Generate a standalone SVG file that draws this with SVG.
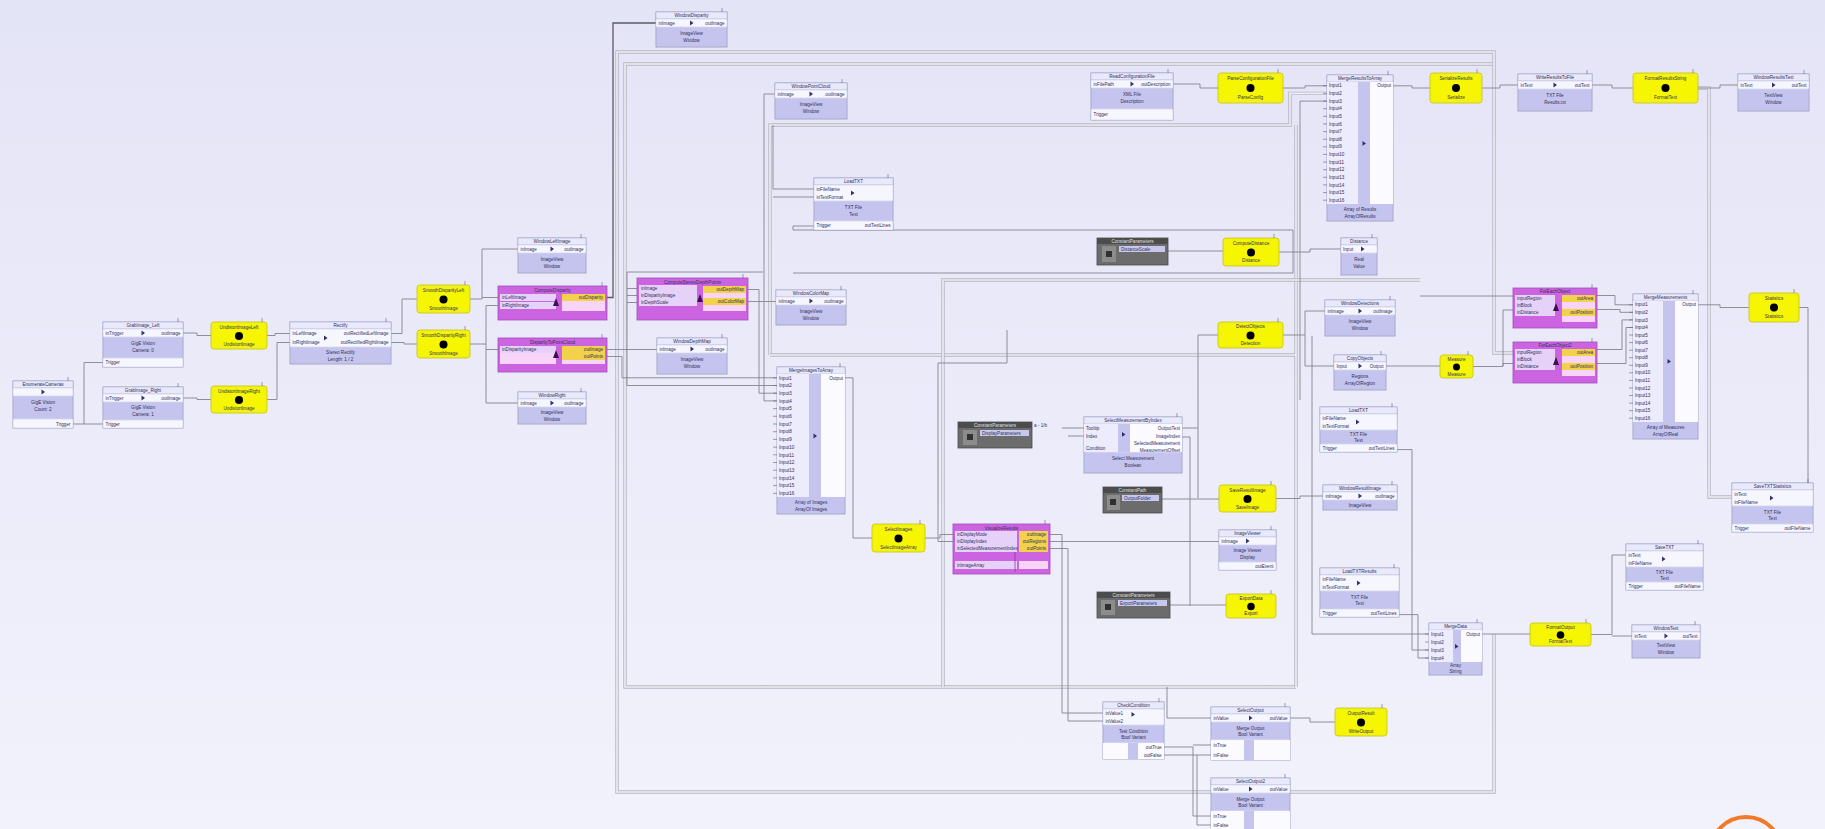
<svg xmlns="http://www.w3.org/2000/svg" width="1825" height="829" viewBox="0 0 1825 829">
<defs>
<linearGradient id="bg" x1="0" y1="0" x2="0" y2="1"><stop offset="0" stop-color="#e4e4f7"/><stop offset="1" stop-color="#f2f2fc"/></linearGradient>
<style>
.o{fill:#d0d0f2;stroke:#9494bc;stroke-width:.8}
.h{fill:#e9e9fc;stroke:#a8a8cc;stroke-width:.5}
.p{fill:#f6f6ff;stroke:#b8b8d8;stroke-width:.4}
.b{fill:#c4c4ee}
.lw{fill:#ececfc}
.ow{fill:#fafaff}
.t{font-family:"Liberation Sans",Arial,sans-serif;font-size:4.6px;fill:#30305a}
.tw{font-family:"Liberation Sans",Arial,sans-serif;font-size:4.6px;fill:#e0e0e0}
.c{text-anchor:middle}
.e{text-anchor:end}
.g{fill:#303070}
.y{fill:#f6f600;stroke:#c8c400;stroke-width:.8}
.yi{fill:none;stroke:#e4e460;stroke-width:.5}
.mg{fill:#cc64e2;stroke:#a24cb8;stroke-width:.8}
.mi{fill:#e6d2f8}
.mo{fill:#f2d24a}
.mp{fill:#f8d4f8}
.dk{fill:#6c6c6c;stroke:#4a4a4a;stroke-width:.8}
.dh{fill:#4c4c4c}
.di{fill:#8c8c8c}
.dl{fill:#c8c8ee}
.tk{fill:none;stroke:#606080;stroke-width:.6}
.w{fill:none;stroke:#84848f;stroke-width:.9}
.wd{fill:none;stroke:#5a5a68;stroke-width:1.3}
.bs{fill:none;stroke:#b6b6c2;stroke-width:3.4}
.bi{fill:none;stroke:#eeeef6;stroke-width:1.6}
</style>
</defs>
<rect width="1825" height="829" fill="url(#bg)"/>

<g id="connectors">
<g id="buses">
<path class="bs" d="M1494,634 V792 H617 V52 H1494 V353 H1515"/>
<path class="bi" d="M1494,634 V792 H617 V52 H1494 V353 H1515"/>
<path class="bs" d="M1296,687 H625 V64 H1492"/>
<path class="bi" d="M1296,687 H625 V64 H1492"/>
<path class="bs" d="M770,355 V125 H1290 V93.4 H1327"/>
<path class="bi" d="M770,355 V125 H1290 V93.4 H1327"/>
<path class="bs" d="M770,355 H1296 M1296,125 V687"/>
<path class="bi" d="M770,355 H1296 M1296,125 V687"/>
<path class="bs" d="M943,687 V280 H1420"/>
<path class="bi" d="M943,687 V280 H1420"/>
<path class="bs" d="M1698,88 H1709 V497 H1732"/>
<path class="bi" d="M1698,88 H1709 V497 H1732"/>
</g>
<path class="w" d="M73,424 H103"/>
<path class="w" d="M84,424 V362.5 H103"/>
<path class="w" d="M183,333 H197 V335.5 H211"/>
<path class="w" d="M183,398 H197 V399.5 H211"/>
<path class="w" d="M267,335.5 H275 V333.5 H290"/>
<path class="w" d="M267,399.5 H277 V342.5 H290"/>
<path class="w" d="M391,333.5 H402 V299 H417"/>
<path class="w" d="M391,342.5 H404 V344 H417"/>
<path class="w" d="M470,299 H482 V249 H518 M482,297.5 H500"/>
<path class="w" d="M470,344 H486 V305.5 H500 M486,344 V403 H518 M486,349.5 H500"/>
<path class="wd" d="M605,297.5 H613 V23 H656"/>
<path class="w" d="M605,349.5 H657"/>
<path class="w" d="M605,356.5 H622 V377.8 H777"/>
<path class="w" d="M627,272 V385.5 H777 M627,288.5 H639 M627,295.5 H639 M627,302.5 H639 M627,272 H763"/>
<path class="w" d="M748,289.5 H759 V393.2 H777"/>
<path class="w" d="M748,301.5 H776"/>
<path class="w" d="M775,94 H764 V400.9 H777"/>
<path class="w" d="M773,125 V189 H814 M773,197 H814"/>
<path class="w" d="M814,226 H793 V230 H1293 V273 H793"/>
<path class="w" d="M1173,84 H1200 V88 H1218"/>
<path class="w" d="M1283,88 H1305 V85.8 H1327"/>
<path class="w" d="M1300,101.1 H1327 M1300,101.1 V400"/>
<path class="w" d="M1393,85.8 H1412 V88 H1430"/>
<path class="w" d="M1482,88 H1500 V85 H1518"/>
<path class="w" d="M1592,85 H1612 V88 H1633"/>
<path class="w" d="M1698,88 H1720 V85 H1738"/>
<path class="w" d="M1168,251 H1223"/>
<path class="w" d="M1279,252 H1310 V249 H1341"/>
<path class="w" d="M1198,498 V335 H1218"/>
<path class="w" d="M1283,335 H1305 V311 H1325 M1305,335 V366 H1334"/>
<path class="w" d="M1386,366 H1440"/>
<path class="w" d="M1473,366.5 H1503 V363.5 H1515"/>
<path class="w" d="M1420,296 H1515 M1503,310 H1515 M1503,310 V366"/>
<path class="w" d="M1597,295.5 H1615 V304.8 H1633 M1597,309.5 H1620 V312.3 H1633"/>
<path class="w" d="M1597,349.5 H1622 V319.9 H1633 M1597,363.5 H1626 V327.5 H1633"/>
<path class="w" d="M1698,304.8 H1720 V307.5 H1749"/>
<path class="w" d="M1799,307.5 H1808 V483"/>
<path class="w" d="M845,377.8 H853 V538 H872"/>
<path class="w" d="M925,538 H940 V534.5 H955"/>
<path class="w" d="M1007,330 V363 H938 V541.5 H955"/>
<path class="w" d="M1048,534.5 H1062 V713 H1103 M1062,428 H1084 M1048,541.5 H1219 M1048,548.5 H1068 V721 H1103 M1068,436 H1084"/>
<path class="w" d="M1182,428 H1198 M1182,437 H1190 V606"/>
<path class="w" d="M1162,499 H1219"/>
<path class="w" d="M1170,605 H1226"/>
<path class="w" d="M1276,498.5 H1300 V496 H1323"/>
<path class="w" d="M1312,336 V634 H1429 M1397,449.6 H1412 V650 H1429 M1399,614.6 H1418 V658 H1429"/>
<path class="w" d="M1482,634 H1530"/>
<path class="w" d="M1591,634.5 H1612 V555 H1626 M1612,636 H1632"/>
<path class="w" d="M1164,747 H1193 V816 H1211 M1193,745 H1211 M1164,755 H1197 V825 H1211 M1197,755 H1211"/>
<path class="w" d="M1167,687 V718 H1211"/>
<path class="w" d="M1290,718 H1310 V722 H1335"/>
</g>

<g id="A"><rect class="o" x="13" y="381" width="60" height="47"/><rect class="h" x="13" y="381" width="60" height="7"/><text class="t c" x="43" y="386.2">EnumerateCameras</text><rect class="p" x="13" y="388" width="60" height="8"/><path class="g" d="M41.5,389.6l3.5,2.4l-3.5,2.4z"/><rect class="b" x="14" y="397" width="58" height="21"/><text class="t c" x="43" y="404">GigE Vision</text><text class="t c" x="43" y="411">Count: 2</text><rect class="p" x="13" y="419" width="60" height="9"/><text class="t e" x="70.5" y="425.5">Trigger</text><path class="tk" d="M68,377v4"/></g>

<g id="B"><rect class="o" x="103" y="322" width="80" height="45"/><rect class="h" x="103" y="322" width="80" height="7"/><text class="t c" x="143" y="327.2">GrabImage_Left</text><rect class="p" x="103" y="329" width="80" height="8"/><text class="t" x="105.5" y="334.6">inTrigger</text><text class="t e" x="180.5" y="334.6">outImage</text><path class="g" d="M141.5,330.6l3.5,2.4l-3.5,2.4z"/><rect class="b" x="104" y="338" width="78" height="19"/><text class="t c" x="143" y="344.5">GigE Vision</text><text class="t c" x="143" y="351.5">Camera: 0</text><rect class="p" x="103" y="358" width="80" height="9"/><text class="t" x="105.5" y="364">Trigger</text><path class="tk" d="M178,318v4"/></g>

<g id="C"><rect class="o" x="103" y="387" width="80" height="41"/><rect class="h" x="103" y="387" width="80" height="7"/><text class="t c" x="143" y="392.2">GrabImage_Right</text><rect class="p" x="103" y="394" width="80" height="8"/><text class="t" x="105.5" y="399.6">inTrigger</text><text class="t e" x="180.5" y="399.6">outImage</text><path class="g" d="M141.5,395.6l3.5,2.4l-3.5,2.4z"/><rect class="b" x="104" y="403" width="78" height="16"/><text class="t c" x="143" y="409">GigE Vision</text><text class="t c" x="143" y="416">Camera: 1</text><rect class="p" x="103" y="420" width="80" height="8"/><text class="t" x="105.5" y="425.6">Trigger</text><path class="tk" d="M178,383v4"/></g>

<g id="D"><rect class="y" x="211" y="322" width="56" height="27" rx="3"/><rect class="yi" x="213" y="324" width="52" height="23" rx="2"/><text class="t c" x="239" y="328.5">UndistortImageLeft</text><circle cx="239" cy="336" r="4"/><text class="t c" x="239" y="345.5">UndistortImage</text><path class="tk" d="M262,318v4"/></g>
<g id="E"><rect class="y" x="211" y="386" width="56" height="27" rx="3"/><rect class="yi" x="213" y="388" width="52" height="23" rx="2"/><text class="t c" x="239" y="392.5">UndistortImageRight</text><circle cx="239" cy="400" r="4"/><text class="t c" x="239" y="409.5">UndistortImage</text><path class="tk" d="M262,382v4"/></g>

<g id="F"><rect class="o" x="290" y="322" width="101" height="42"/><rect class="h" x="290" y="322" width="101" height="7"/><text class="t c" x="340.5" y="327.2">Rectify</text><rect class="p" x="290" y="329" width="101" height="18"/><text class="t" x="292.5" y="335">inLeftImage</text><text class="t" x="292.5" y="344">inRightImage</text><text class="t e" x="388.5" y="335">outRectifiedLeftImage</text><text class="t e" x="388.5" y="344">outRectifiedRightImage</text><path class="g" d="M324,335.6l3.5,2.4l-3.5,2.4z"/><rect class="b" x="291" y="348" width="99" height="15"/><text class="t c" x="340.5" y="354">Stereo Rectify</text><text class="t c" x="340.5" y="361">Length: 1 / 2</text><path class="tk" d="M386,318v4"/></g>

<g id="G"><rect class="y" x="417" y="285" width="53" height="28" rx="3"/><rect class="yi" x="419" y="287" width="49" height="24" rx="2"/><text class="t c" x="443.5" y="291.5">SmoothDisparityLeft</text><circle cx="443.5" cy="299.5" r="4"/><text class="t c" x="443.5" y="309.5">SmoothImage</text><path class="tk" d="M465,281v4"/></g>
<g id="H"><rect class="y" x="417" y="330" width="53" height="28" rx="3"/><rect class="yi" x="419" y="332" width="49" height="24" rx="2"/><text class="t c" x="443.5" y="336.5">SmoothDisparityRight</text><circle cx="443.5" cy="344.5" r="4"/><text class="t c" x="443.5" y="354.5">SmoothImage</text><path class="tk" d="M465,326v4"/></g>

<g id="I"><rect class="o" x="518" y="238" width="68" height="35"/><rect class="h" x="518" y="238" width="68" height="7"/><text class="t c" x="552" y="243.2">WindowLeftImage</text><rect class="p" x="518" y="245" width="68" height="8"/><text class="t" x="520.5" y="250.6">inImage</text><text class="t e" x="583.5" y="250.6">outImage</text><path class="g" d="M550.5,246.6l3.5,2.4l-3.5,2.4z"/><rect class="b" x="519" y="254" width="66" height="18"/><text class="t c" x="552" y="260.5">ImageView</text><text class="t c" x="552" y="267.5">Window</text><path class="tk" d="M581,234v4"/></g>

<g id="J"><rect class="mg" x="498" y="286" width="109" height="34"/><text class="t c" x="552.5" y="291.6">ComputeDisparity</text><rect class="mi" x="500" y="294" width="56" height="7"/><rect class="mi" x="500" y="302" width="56" height="7"/><text class="t" x="502" y="299.2">inLeftImage</text><text class="t" x="502" y="307.2">inRightImage</text><path d="M553,306 l3,-8 l3,8z" fill="#3a1050"/><rect class="mo" x="562" y="294" width="43" height="7"/><rect class="mp" x="562" y="301" width="43" height="10"/><text class="t e" x="603" y="299.2">outDisparity</text><path class="tk" d="M602,282v4"/></g>

<g id="K"><rect class="mg" x="498" y="338" width="109" height="34"/><text class="t c" x="552.5" y="343.6">DisparityToPointCloud</text><rect class="mi" x="500" y="346" width="56" height="7"/><rect class="mp" x="500" y="353" width="56" height="11"/><text class="t" x="502" y="351.2">inDisparityImage</text><path d="M553,358 l3,-8 l3,8z" fill="#3a1050"/><rect class="mo" x="562" y="346" width="43" height="7"/><rect class="mo" x="562" y="353" width="43" height="7"/><rect class="mp" x="562" y="360" width="43" height="4"/><text class="t e" x="603" y="351.2">outImage</text><text class="t e" x="603" y="358.2">outPoints</text><path class="tk" d="M602,334v4"/></g>

<g id="L"><rect class="o" x="518" y="392" width="68" height="32"/><rect class="h" x="518" y="392" width="68" height="7"/><text class="t c" x="552" y="397.2">WindowRight</text><rect class="p" x="518" y="399" width="68" height="8"/><text class="t" x="520.5" y="404.6">inImage</text><text class="t e" x="583.5" y="404.6">outImage</text><path class="g" d="M550.5,400.6l3.5,2.4l-3.5,2.4z"/><rect class="b" x="519" y="408" width="66" height="15"/><text class="t c" x="552" y="414">ImageView</text><text class="t c" x="552" y="420.5">Window</text><path class="tk" d="M581,388v4"/></g>

<g id="M"><rect class="mg" x="637" y="278" width="111" height="42"/><text class="t c" x="692.5" y="283.6">ComputeStereoDepthPoints</text><rect class="mi" x="639" y="285" width="58" height="7"/><rect class="mi" x="639" y="292" width="58" height="7"/><rect class="mi" x="639" y="299" width="58" height="7"/><text class="t" x="641" y="290.2">inImage</text><text class="t" x="641" y="297.2">inDisparityImage</text><text class="t" x="641" y="304.2">inDepthScale</text><path d="M697,302 l3,-8 l3,8z" fill="#3a1050"/><rect class="mo" x="703" y="286" width="43" height="7"/><rect class="mp" x="703" y="293" width="43" height="5"/><rect class="mo" x="703" y="298" width="43" height="7"/><rect class="mp" x="703" y="305" width="43" height="6"/><text class="t e" x="744" y="291.2">outDepthMap</text><text class="t e" x="744" y="303.2">outColorMap</text><path class="tk" d="M743,274v4"/></g>

<g id="N"><rect class="o" x="657" y="338" width="70" height="36"/><rect class="h" x="657" y="338" width="70" height="7"/><text class="t c" x="692" y="343.2">WindowDepthMap</text><rect class="p" x="657" y="345" width="70" height="8"/><text class="t" x="659.5" y="350.6">inImage</text><text class="t e" x="724.5" y="350.6">outImage</text><path class="g" d="M690.5,346.6l3.5,2.4l-3.5,2.4z"/><rect class="b" x="658" y="354" width="68" height="19"/><text class="t c" x="692" y="360.5">ImageView</text><text class="t c" x="692" y="367.5">Window</text><path class="tk" d="M722,334v4"/></g>

<g id="O"><rect class="o" x="776" y="290" width="70" height="35"/><rect class="h" x="776" y="290" width="70" height="7"/><text class="t c" x="811" y="295.2">WindowColorMap</text><rect class="p" x="776" y="297" width="70" height="8"/><text class="t" x="778.5" y="302.6">inImage</text><text class="t e" x="843.5" y="302.6">outImage</text><path class="g" d="M809.5,298.6l3.5,2.4l-3.5,2.4z"/><rect class="b" x="777" y="306" width="68" height="18"/><text class="t c" x="811" y="312.5">ImageView</text><text class="t c" x="811" y="319.5">Window</text><path class="tk" d="M841,286v4"/></g>

<g id="P"><rect class="o" x="777" y="367" width="68" height="147"/><rect class="h" x="777" y="367" width="68" height="7"/><text class="t c" x="811" y="372.2">MergeImagesToArray</text><rect class="lw" x="777" y="374" width="32" height="123"/><rect class="b" x="809" y="374" width="12" height="123"/><rect class="ow" x="821" y="374" width="24" height="123"/><path class="g" d="M813.5,433.6l3.5,2.4l-3.5,2.4z"/>
<text class="t" x="779" y="379.5">Input1</text><text class="t" x="779" y="387.2">Input2</text><text class="t" x="779" y="394.9">Input3</text><text class="t" x="779" y="402.6">Input4</text><text class="t" x="779" y="410.3">Input5</text><text class="t" x="779" y="418">Input6</text><text class="t" x="779" y="425.7">Input7</text><text class="t" x="779" y="433.4">Input8</text><text class="t" x="779" y="441.1">Input9</text><text class="t" x="779" y="448.8">Input10</text><text class="t" x="779" y="456.5">Input11</text><text class="t" x="779" y="464.2">Input12</text><text class="t" x="779" y="471.9">Input13</text><text class="t" x="779" y="479.6">Input14</text><text class="t" x="779" y="487.3">Input15</text><text class="t" x="779" y="495">Input16</text><text class="t e" x="843" y="379.5">Output</text>
<path class="tk" d="M773,377.8h4M773,385.5h4M773,393.2h4M773,400.9h4M773,408.6h4M773,416.3h4M773,424h4M773,431.7h4M773,439.4h4M773,447.1h4M773,454.8h4M773,462.5h4M773,470.2h4M773,477.9h4M773,485.6h4M773,493.3h4M840,363v4"/>
<rect class="b" x="778" y="497" width="66" height="16"/><text class="t c" x="811" y="503.5">Array of Images</text><text class="t c" x="811" y="510.5">ArrayOf Images</text></g>

<g id="Q"><rect class="o" x="656" y="12" width="71" height="35"/><rect class="h" x="656" y="12" width="71" height="7"/><text class="t c" x="691.5" y="17.2">WindowDisparity</text><rect class="p" x="656" y="19" width="71" height="8"/><text class="t" x="658.5" y="24.6">inImage</text><text class="t e" x="724.5" y="24.6">outImage</text><path class="g" d="M690,20.6l3.5,2.4l-3.5,2.4z"/><rect class="b" x="657" y="28" width="69" height="18"/><text class="t c" x="691.5" y="34.5">ImageView</text><text class="t c" x="691.5" y="41.5">Window</text><path class="tk" d="M722,8v4"/></g>

<g id="R"><rect class="o" x="775" y="83" width="72" height="36"/><rect class="h" x="775" y="83" width="72" height="7"/><text class="t c" x="811" y="88.2">WindowPointCloud</text><rect class="p" x="775" y="90" width="72" height="8"/><text class="t" x="777.5" y="95.6">inImage</text><text class="t e" x="844.5" y="95.6">outImage</text><path class="g" d="M809.5,91.6l3.5,2.4l-3.5,2.4z"/><rect class="b" x="776" y="99" width="70" height="19"/><text class="t c" x="811" y="105.5">ImageView</text><text class="t c" x="811" y="112.5">Window</text><path class="tk" d="M842,79v4"/></g>

<g id="S"><rect class="o" x="814" y="178" width="79" height="52"/><rect class="h" x="814" y="178" width="79" height="7"/><text class="t c" x="853.5" y="183.2">LoadTXT</text><rect class="p" x="814" y="185" width="79" height="16"/><text class="t" x="816.5" y="190.6">inFileName</text><text class="t" x="816.5" y="198.6">inTextFormat</text><path class="g" d="M851,190.6l3.5,2.4l-3.5,2.4z"/><rect class="b" x="815" y="202" width="77" height="18"/><text class="t c" x="853.5" y="208.5">TXT File</text><text class="t c" x="853.5" y="215.5">Text</text><rect class="p" x="814" y="221" width="79" height="9"/><text class="t" x="816.5" y="227">Trigger</text><text class="t e" x="890.5" y="227">outTextLines</text><path class="tk" d="M888,174v4"/></g>

<g id="T"><rect class="o" x="1091" y="73" width="82" height="47"/><rect class="h" x="1091" y="73" width="82" height="7"/><text class="t c" x="1132" y="78.2">ReadConfigurationFile</text><rect class="p" x="1091" y="80" width="82" height="8"/><text class="t" x="1093.5" y="85.6">inFilePath</text><text class="t e" x="1170.5" y="85.6">outDescription</text><path class="g" d="M1130.5,81.6l3.5,2.4l-3.5,2.4z"/><rect class="b" x="1092" y="89" width="80" height="19"/><text class="t c" x="1132" y="95.5">XML File</text><text class="t c" x="1132" y="102.5">Description</text><rect class="p" x="1091" y="109" width="82" height="11"/><text class="t" x="1093.5" y="115.5">Trigger</text><path class="tk" d="M1168,69v4"/></g>

<g id="U"><rect class="y" x="1218" y="73" width="65" height="30" rx="3"/><rect class="yi" x="1220" y="75" width="61" height="26" rx="2"/><text class="t c" x="1250.5" y="79.5">ParseConfigurationFile</text><circle cx="1250.5" cy="88" r="4"/><text class="t c" x="1250.5" y="99">ParseConfig</text><path class="tk" d="M1278,69v4"/></g>

<g id="V"><rect class="o" x="1327" y="75" width="66" height="146"/><rect class="h" x="1327" y="75" width="66" height="7"/><text class="t c" x="1360" y="80.2">MergeResultsToArray</text><rect class="lw" x="1327" y="82" width="31" height="122"/><rect class="b" x="1358" y="82" width="12" height="122"/><rect class="ow" x="1370" y="82" width="23" height="122"/><path class="g" d="M1362.5,141l3.5,2.4l-3.5,2.4z"/>
<text class="t" x="1329" y="87.4">Input1</text><text class="t" x="1329" y="95">Input2</text><text class="t" x="1329" y="102.7">Input3</text><text class="t" x="1329" y="110.3">Input4</text><text class="t" x="1329" y="117.9">Input5</text><text class="t" x="1329" y="125.5">Input6</text><text class="t" x="1329" y="133.2">Input7</text><text class="t" x="1329" y="140.8">Input8</text><text class="t" x="1329" y="148.4">Input9</text><text class="t" x="1329" y="156">Input10</text><text class="t" x="1329" y="163.7">Input11</text><text class="t" x="1329" y="171.3">Input12</text><text class="t" x="1329" y="178.9">Input13</text><text class="t" x="1329" y="186.5">Input14</text><text class="t" x="1329" y="194.2">Input15</text><text class="t" x="1329" y="201.8">Input16</text><text class="t e" x="1391" y="87.4">Output</text>
<path class="tk" d="M1323,85.8h4M1323,93.4h4M1323,101.1h4M1323,108.7h4M1323,116.3h4M1323,123.9h4M1323,131.6h4M1323,139.2h4M1323,146.8h4M1323,154.4h4M1323,162.1h4M1323,169.7h4M1323,177.3h4M1323,184.9h4M1323,192.6h4M1323,200.2h4M1388,71v4"/>
<rect class="b" x="1328" y="204" width="64" height="16"/><text class="t c" x="1360" y="210.5">Array of Results</text><text class="t c" x="1360" y="217.5">ArrayOfResults</text></g>

<g id="W"><rect class="y" x="1430" y="73" width="52" height="30" rx="3"/><rect class="yi" x="1432" y="75" width="48" height="26" rx="2"/><text class="t c" x="1456" y="79.5">SerializeResults</text><circle cx="1456" cy="88" r="4"/><text class="t c" x="1456" y="99">Serialize</text><path class="tk" d="M1477,69v4"/></g>

<g id="X"><rect class="o" x="1518" y="74" width="74" height="37"/><rect class="h" x="1518" y="74" width="74" height="7"/><text class="t c" x="1555" y="79.2">WriteResultsToFile</text><rect class="p" x="1518" y="81" width="74" height="8"/><text class="t" x="1520.5" y="86.6">inText</text><text class="t e" x="1589.5" y="86.6">outText</text><path class="g" d="M1553.5,82.6l3.5,2.4l-3.5,2.4z"/><rect class="b" x="1519" y="90" width="72" height="20"/><text class="t c" x="1555" y="96.5">TXT File</text><text class="t c" x="1555" y="103.5">Results.txt</text><path class="tk" d="M1587,70v4"/></g>

<g id="Y"><rect class="y" x="1633" y="73" width="65" height="30" rx="3"/><rect class="yi" x="1635" y="75" width="61" height="26" rx="2"/><text class="t c" x="1665.5" y="79.5">FormatResultsString</text><circle cx="1665.5" cy="88" r="4"/><text class="t c" x="1665.5" y="99">FormatText</text><path class="tk" d="M1693,69v4"/></g>

<g id="Z"><rect class="o" x="1738" y="74" width="71" height="37"/><rect class="h" x="1738" y="74" width="71" height="7"/><text class="t c" x="1773.5" y="79.2">WindowResultsText</text><rect class="p" x="1738" y="81" width="71" height="8"/><text class="t" x="1740.5" y="86.6">inText</text><text class="t e" x="1806.5" y="86.6">outText</text><path class="g" d="M1772,82.6l3.5,2.4l-3.5,2.4z"/><rect class="b" x="1739" y="90" width="69" height="20"/><text class="t c" x="1773.5" y="96.5">TextView</text><text class="t c" x="1773.5" y="103.5">Window</text><path class="tk" d="M1804,70v4"/></g>

<g id="AA"><rect class="dk" x="1097" y="238" width="71" height="27"/><rect class="dh" x="1097" y="238" width="71" height="6"/><text class="tw c" x="1132.5" y="242.5">ConstantParameters</text><rect class="di" x="1102" y="246" width="14" height="16"/><rect x="1106" y="251" width="6" height="6" fill="#303030"/><rect class="dl" x="1119" y="246" width="46" height="6"/><text class="t" x="1121" y="250.6">DistanceScale</text></g>

<g id="AB"><rect class="y" x="1223" y="238" width="56" height="28" rx="3"/><rect class="yi" x="1225" y="240" width="52" height="24" rx="2"/><text class="t c" x="1251" y="244.5">ComputeDistance</text><circle cx="1251" cy="252.5" r="4"/><text class="t c" x="1251" y="262">Distance</text><path class="tk" d="M1274,234v4"/></g>

<g id="AC"><rect class="o" x="1341" y="238" width="36" height="37"/><rect class="h" x="1341" y="238" width="36" height="7"/><text class="t c" x="1359" y="243.2">Distance</text><rect class="p" x="1341" y="245" width="36" height="8"/><text class="t" x="1343" y="250.6">Input</text><path class="g" d="M1361,246.6l3.5,2.4l-3.5,2.4z"/><rect class="b" x="1342" y="254" width="34" height="20"/><text class="t c" x="1359" y="260.5">Real</text><text class="t c" x="1359" y="267.5">Value</text><path class="tk" d="M1372,234v4"/></g>

<g id="AD"><rect class="y" x="1218" y="322" width="65" height="26" rx="3"/><rect class="yi" x="1220" y="324" width="61" height="22" rx="2"/><text class="t c" x="1250.5" y="328">DetectObjects</text><circle cx="1250.5" cy="335.5" r="4"/><text class="t c" x="1250.5" y="344.5">Detection</text><path class="tk" d="M1278,318v4"/></g>

<g id="AE"><rect class="o" x="1325" y="300" width="70" height="36"/><rect class="h" x="1325" y="300" width="70" height="7"/><text class="t c" x="1360" y="305.2">WindowDetections</text><rect class="p" x="1325" y="307" width="70" height="8"/><text class="t" x="1327.5" y="312.6">inImage</text><text class="t e" x="1392.5" y="312.6">outImage</text><path class="g" d="M1358.5,308.6l3.5,2.4l-3.5,2.4z"/><rect class="b" x="1326" y="316" width="68" height="19"/><text class="t c" x="1360" y="322.5">ImageView</text><text class="t c" x="1360" y="329.5">Window</text><path class="tk" d="M1390,296v4"/></g>

<g id="AF"><rect class="o" x="1334" y="355" width="52" height="35"/><rect class="h" x="1334" y="355" width="52" height="7"/><text class="t c" x="1360" y="360.2">CopyObjects</text><rect class="p" x="1334" y="362" width="52" height="8"/><text class="t" x="1336.5" y="367.6">Input</text><text class="t e" x="1383.5" y="367.6">Output</text><path class="g" d="M1358.5,363.6l3.5,2.4l-3.5,2.4z"/><rect class="b" x="1335" y="371" width="50" height="18"/><text class="t c" x="1360" y="377.5">Regions</text><text class="t c" x="1360" y="384.5">ArrayOfRegion</text><path class="tk" d="M1381,351v4"/></g>

<g id="AY"><rect class="y" x="1440" y="355" width="33" height="23" rx="3"/><rect class="yi" x="1442" y="357" width="29" height="19" rx="2"/><text class="t c" x="1456.5" y="360.5">Measure</text><circle cx="1456.5" cy="367" r="3.5"/><text class="t c" x="1456.5" y="375.5">Measure</text><path class="tk" d="M1468,351v4"/></g>

<g id="AG"><rect class="mg" x="1513" y="288" width="84" height="40"/><text class="t c" x="1555" y="293">ForEachObject</text><rect class="mi" x="1515" y="295" width="40" height="7"/><rect class="mi" x="1515" y="302" width="40" height="7"/><rect class="mi" x="1515" y="309" width="40" height="7"/><text class="t" x="1517" y="300.2">inputRegion</text><text class="t" x="1517" y="307.2">inBlock</text><text class="t" x="1517" y="314.2">inDistance</text><path d="M1553,311 l3,-8 l3,8z" fill="#3a1050"/><rect class="mo" x="1562" y="295" width="33" height="7"/><rect class="mp" x="1562" y="302" width="33" height="7"/><rect class="mo" x="1562" y="309" width="33" height="7"/><rect class="mp" x="1562" y="316" width="33" height="6"/><text class="t e" x="1593" y="300.2">outArea</text><text class="t e" x="1593" y="314.2">outPosition</text><path class="tk" d="M1592,284v4"/></g>

<g id="AH"><rect class="mg" x="1513" y="342" width="84" height="41"/><text class="t c" x="1555" y="347">ForEachObject2</text><rect class="mi" x="1515" y="349" width="40" height="7"/><rect class="mi" x="1515" y="356" width="40" height="7"/><rect class="mi" x="1515" y="363" width="40" height="7"/><text class="t" x="1517" y="354.2">inputRegion</text><text class="t" x="1517" y="361.2">inBlock</text><text class="t" x="1517" y="368.2">inDistance</text><path d="M1553,365 l3,-8 l3,8z" fill="#3a1050"/><rect class="mo" x="1562" y="349" width="33" height="7"/><rect class="mp" x="1562" y="356" width="33" height="7"/><rect class="mo" x="1562" y="363" width="33" height="7"/><rect class="mp" x="1562" y="370" width="33" height="6"/><text class="t e" x="1593" y="354.2">outArea</text><text class="t e" x="1593" y="368.2">outPosition</text><path class="tk" d="M1592,338v4"/></g>

<g id="AI"><rect class="o" x="1633" y="294" width="65" height="145"/><rect class="h" x="1633" y="294" width="65" height="7"/><text class="t c" x="1665.5" y="299.2">MergeMeasurements</text><rect class="lw" x="1633" y="301" width="30" height="121"/><rect class="b" x="1663" y="301" width="12" height="121"/><rect class="ow" x="1675" y="301" width="23" height="121"/><path class="g" d="M1667.5,359l3.5,2.4l-3.5,2.4z"/>
<text class="t" x="1635" y="306.4">Input1</text><text class="t" x="1635" y="313.9">Input2</text><text class="t" x="1635" y="321.5">Input3</text><text class="t" x="1635" y="329.1">Input4</text><text class="t" x="1635" y="336.6">Input5</text><text class="t" x="1635" y="344.2">Input6</text><text class="t" x="1635" y="351.8">Input7</text><text class="t" x="1635" y="359.3">Input8</text><text class="t" x="1635" y="366.9">Input9</text><text class="t" x="1635" y="374.4">Input10</text><text class="t" x="1635" y="382">Input11</text><text class="t" x="1635" y="389.6">Input12</text><text class="t" x="1635" y="397.1">Input13</text><text class="t" x="1635" y="404.7">Input14</text><text class="t" x="1635" y="412.3">Input15</text><text class="t" x="1635" y="419.8">Input16</text><text class="t e" x="1696" y="306.4">Output</text>
<path class="tk" d="M1629,304.8h4M1629,312.3h4M1629,319.9h4M1629,327.5h4M1629,335h4M1629,342.6h4M1629,350.2h4M1629,357.7h4M1629,365.3h4M1629,372.8h4M1629,380.4h4M1629,388h4M1629,395.5h4M1629,403.1h4M1629,410.7h4M1629,418.2h4M1693,290v4"/>
<rect class="b" x="1634" y="422" width="63" height="16"/><text class="t c" x="1665.5" y="428.5">Array of Measures</text><text class="t c" x="1665.5" y="435.5">ArrayOfReal</text></g>

<g id="AJ"><rect class="y" x="1749" y="293" width="50" height="29" rx="3"/><rect class="yi" x="1751" y="295" width="46" height="25" rx="2"/><text class="t c" x="1774" y="299.5">Statistics</text><circle cx="1774" cy="307.5" r="4"/><text class="t c" x="1774" y="318">Statistics</text><path class="tk" d="M1794,289v4"/></g>

<g id="AK"><rect class="dk" x="958" y="422" width="74" height="26"/><rect class="dh" x="958" y="422" width="74" height="6"/><text class="tw c" x="995" y="426.5">ConstantParameters</text><rect class="di" x="963" y="430" width="14" height="15"/><rect x="967" y="434" width="6" height="6" fill="#303030"/><rect class="dl" x="980" y="430" width="49" height="6"/><text class="t" x="982" y="434.6">DisplayParameters</text><text class="t" x="1034" y="427">a - 1/b</text></g>

<g id="AL"><rect class="y" x="872" y="524" width="53" height="28" rx="3"/><rect class="yi" x="874" y="526" width="49" height="24" rx="2"/><text class="t c" x="898.5" y="530.5">SelectImages</text><circle cx="898.5" cy="538.5" r="4"/><text class="t c" x="898.5" y="548.5">SelectImageArray</text><path class="tk" d="M920,520v4"/></g>

<g id="AM"><rect class="mg" x="953" y="524" width="97" height="50"/><text class="t c" x="1001.5" y="529.5">VisualizeResults</text><rect class="mi" x="955" y="531" width="62" height="7"/><rect class="mi" x="955" y="538" width="62" height="7"/><rect class="mi" x="955" y="545" width="62" height="7"/><text class="t" x="957" y="536.2">inDisplayMode</text><text class="t" x="957" y="543.2">inDisplayIndex</text><text class="t" x="957" y="550.2">inSelectedMeasurementIndex</text><rect class="mo" x="1019" y="531" width="29" height="7"/><rect class="mo" x="1019" y="538" width="29" height="7"/><rect class="mo" x="1019" y="545" width="29" height="7"/><text class="t e" x="1046" y="536.2">outImage</text><text class="t e" x="1046" y="543.2">outRegions</text><text class="t e" x="1046" y="550.2">outPoints</text><rect class="mi" x="955" y="561" width="62" height="8"/><rect class="mp" x="1019" y="561" width="29" height="8"/><text class="t" x="957" y="566.6">inImageArray</text><path d="M1015,552 v20" stroke="#8a3aa0" stroke-width=".8"/><path class="tk" d="M1045,520v4"/></g>

<g id="AN"><rect class="o" x="1084" y="417" width="98" height="56"/><rect class="h" x="1084" y="417" width="98" height="7"/><text class="t c" x="1133" y="422.2">SelectMeasurementByIndex</text><rect class="lw" x="1084" y="424" width="34" height="28"/><rect class="b" x="1118" y="424" width="12" height="28"/><rect class="ow" x="1130" y="424" width="52" height="28"/><text class="t" x="1086" y="430">Tooltip</text><text class="t" x="1086" y="438">Index</text><text class="t" x="1086" y="450">Condition</text><text class="t e" x="1180" y="430">OutputText</text><text class="t e" x="1180" y="438">ImageIndex</text><text class="t e" x="1180" y="445">SelectedMeasurement</text><text class="t e" x="1180" y="452">MeasurementOffset</text><path class="g" d="M1122,432l3.5,2.4l-3.5,2.4z"/><rect class="b" x="1085" y="453" width="96" height="19"/><text class="t c" x="1133" y="460">Select Measurement</text><text class="t c" x="1133" y="467">Boolean</text><path class="tk" d="M1177,413v4"/></g>

<g id="AO"><rect class="dk" x="1103" y="487" width="59" height="26"/><rect class="dh" x="1103" y="487" width="59" height="6"/><text class="tw c" x="1132.5" y="491.5">ConstantPath</text><rect class="di" x="1107" y="495" width="13" height="15"/><rect x="1110" y="499" width="6" height="6" fill="#303030"/><rect class="dl" x="1122" y="495" width="37" height="6"/><text class="t" x="1124" y="499.6">OutputFolder</text></g>

<g id="AP"><rect class="y" x="1219" y="485" width="57" height="27" rx="3"/><rect class="yi" x="1221" y="487" width="53" height="23" rx="2"/><text class="t c" x="1247.5" y="491.5">SaveResultImage</text><circle cx="1247.5" cy="499" r="4"/><text class="t c" x="1247.5" y="508.5">SaveImage</text><path class="tk" d="M1271,481v4"/></g>

<g id="AQ"><rect class="o" x="1219" y="530" width="57" height="40"/><rect class="h" x="1219" y="530" width="57" height="7"/><text class="t c" x="1247.5" y="535.2">ImageViewer</text><rect class="p" x="1219" y="537" width="57" height="8"/><text class="t" x="1221.5" y="542.6">inImage</text><path class="g" d="M1246,538.6l3.5,2.4l-3.5,2.4z"/><rect class="b" x="1220" y="546" width="55" height="15"/><text class="t c" x="1247.5" y="552">Image Viewer</text><text class="t c" x="1247.5" y="558.5">Display</text><rect class="p" x="1219" y="562" width="57" height="8"/><text class="t e" x="1273.5" y="567.6">outEvent</text><path class="tk" d="M1271,526v4"/></g>

<g id="AR"><rect class="dk" x="1097" y="592" width="73" height="26"/><rect class="dh" x="1097" y="592" width="73" height="6"/><text class="tw c" x="1133.5" y="596.5">ConstantParameters</text><rect class="di" x="1101" y="600" width="14" height="15"/><rect x="1105" y="604" width="6" height="6" fill="#303030"/><rect class="dl" x="1118" y="600" width="49" height="6"/><text class="t" x="1120" y="604.6">ExportParameters</text></g>

<g id="AS"><rect class="y" x="1226" y="594" width="50" height="24" rx="3"/><rect class="yi" x="1228" y="596" width="46" height="20" rx="2"/><text class="t c" x="1251" y="600">ExportData</text><circle cx="1251" cy="606.5" r="3.8"/><text class="t c" x="1251" y="615">Export</text><path class="tk" d="M1271,590v4"/></g>

<g id="N48"><rect class="o" x="1320" y="407" width="77" height="45"/><rect class="h" x="1320" y="407" width="77" height="7"/><text class="t c" x="1358.5" y="412.2">LoadTXT</text><rect class="p" x="1320" y="414" width="77" height="16"/><text class="t" x="1322.5" y="419.6">inFileName</text><text class="t" x="1322.5" y="427.6">inTextFormat</text><path class="g" d="M1356,419.6l3.5,2.4l-3.5,2.4z"/><rect class="b" x="1321" y="431" width="75" height="12"/><text class="t c" x="1358.5" y="436">TXT File</text><text class="t c" x="1358.5" y="441.5">Text</text><rect class="p" x="1320" y="444" width="77" height="8"/><text class="t" x="1322.5" y="449.6">Trigger</text><text class="t e" x="1394.5" y="449.6">outTextLines</text><path class="tk" d="M1392,403v4"/></g>

<g id="N49"><rect class="o" x="1323" y="485" width="74" height="25"/><rect class="h" x="1323" y="485" width="74" height="7"/><text class="t c" x="1360" y="490.2">WindowResultImage</text><rect class="p" x="1323" y="492" width="74" height="8"/><text class="t" x="1325.5" y="497.6">inImage</text><text class="t e" x="1394.5" y="497.6">outImage</text><path class="g" d="M1358.5,493.6l3.5,2.4l-3.5,2.4z"/><rect class="b" x="1324" y="501" width="72" height="8"/><text class="t c" x="1360" y="507">ImageView</text><path class="tk" d="M1392,481v4"/></g>

<g id="N50"><rect class="o" x="1320" y="568" width="79" height="49"/><rect class="h" x="1320" y="568" width="79" height="7"/><text class="t c" x="1359.5" y="573.2">LoadTXTResults</text><rect class="p" x="1320" y="575" width="79" height="16"/><text class="t" x="1322.5" y="580.6">inFileName</text><text class="t" x="1322.5" y="588.6">inTextFormat</text><path class="g" d="M1357,580.6l3.5,2.4l-3.5,2.4z"/><rect class="b" x="1321" y="592" width="77" height="16"/><text class="t c" x="1359.5" y="598.5">TXT File</text><text class="t c" x="1359.5" y="605">Text</text><rect class="p" x="1320" y="609" width="79" height="8"/><text class="t" x="1322.5" y="614.6">Trigger</text><text class="t e" x="1396.5" y="614.6">outTextLines</text><path class="tk" d="M1394,564v4"/></g>

<g id="N51"><rect class="o" x="1429" y="623" width="53" height="52"/><rect class="h" x="1429" y="623" width="53" height="7"/><text class="t c" x="1455.5" y="628.2">MergeData</text><rect class="lw" x="1429" y="630" width="24" height="32"/><rect class="b" x="1453" y="630" width="8" height="32"/><rect class="ow" x="1461" y="630" width="21" height="32"/><text class="t" x="1431" y="635.6">Input1</text><text class="t" x="1431" y="643.6">Input2</text><text class="t" x="1431" y="651.6">Input3</text><text class="t" x="1431" y="659.6">Input4</text><text class="t e" x="1480" y="635.6">Output</text><path class="g" d="M1455,644l3.5,2.4l-3.5,2.4z"/><path class="tk" d="M1425,634h4M1425,642h4M1425,650h4M1425,658h4M1477,619v4"/><rect class="b" x="1430" y="662" width="51" height="12"/><text class="t c" x="1455.5" y="667">Array</text><text class="t c" x="1455.5" y="672.5">String</text></g>

<g id="Y52"><rect class="y" x="1530" y="623" width="61" height="23" rx="3"/><rect class="yi" x="1532" y="625" width="57" height="19" rx="2"/><text class="t c" x="1560.5" y="629">FormatOutput</text><circle cx="1560.5" cy="635" r="3.8"/><text class="t c" x="1560.5" y="643">FormatText</text><path class="tk" d="M1586,619v4"/></g>

<g id="N53"><rect class="o" x="1626" y="544" width="77" height="46"/><rect class="h" x="1626" y="544" width="77" height="7"/><text class="t c" x="1664.5" y="549.2">SaveTXT</text><rect class="p" x="1626" y="551" width="77" height="16"/><text class="t" x="1628.5" y="556.6">inText</text><text class="t" x="1628.5" y="564.6">inFileName</text><path class="g" d="M1662,556.6l3.5,2.4l-3.5,2.4z"/><rect class="b" x="1627" y="568" width="75" height="13"/><text class="t c" x="1664.5" y="573.5">TXT File</text><text class="t c" x="1664.5" y="579.5">Text</text><rect class="p" x="1626" y="582" width="77" height="8"/><text class="t" x="1628.5" y="587.6">Trigger</text><text class="t e" x="1700.5" y="587.6">outFileName</text><path class="tk" d="M1698,540v4"/></g>

<g id="N54"><rect class="o" x="1632" y="625" width="68" height="33"/><rect class="h" x="1632" y="625" width="68" height="7"/><text class="t c" x="1666" y="630.2">WindowText</text><rect class="p" x="1632" y="632" width="68" height="8"/><text class="t" x="1634.5" y="637.6">inText</text><text class="t e" x="1697.5" y="637.6">outText</text><path class="g" d="M1664.5,633.6l3.5,2.4l-3.5,2.4z"/><rect class="b" x="1633" y="641" width="66" height="16"/><text class="t c" x="1666" y="647">TextView</text><text class="t c" x="1666" y="654">Window</text><path class="tk" d="M1695,621v4"/></g>

<g id="N55"><rect class="o" x="1732" y="483" width="81" height="49"/><rect class="h" x="1732" y="483" width="81" height="7"/><text class="t c" x="1772.5" y="488.2">SaveTXTStatistics</text><rect class="p" x="1732" y="490" width="81" height="16"/><text class="t" x="1734.5" y="495.6">inText</text><text class="t" x="1734.5" y="503.6">inFileName</text><path class="g" d="M1770,495.6l3.5,2.4l-3.5,2.4z"/><rect class="b" x="1733" y="507" width="79" height="16"/><text class="t c" x="1772.5" y="513.5">TXT File</text><text class="t c" x="1772.5" y="520">Text</text><rect class="p" x="1732" y="524" width="81" height="8"/><text class="t" x="1734.5" y="529.6">Trigger</text><text class="t e" x="1810.5" y="529.6">outFileName</text><path class="tk" d="M1808,479v4"/></g>

<g id="N57"><rect class="o" x="1103" y="702" width="61" height="57"/><rect class="h" x="1103" y="702" width="61" height="7"/><text class="t c" x="1133.5" y="707.2">CheckCondition</text><rect class="p" x="1103" y="709" width="61" height="16"/><text class="t" x="1105.5" y="714.6">inValue1</text><text class="t" x="1105.5" y="722.6">inValue2</text><path class="g" d="M1131.5,712l3.5,2.4l-3.5,2.4z"/><rect class="b" x="1104" y="726" width="59" height="16"/><text class="t c" x="1133.5" y="732.5">Test Condition</text><text class="t c" x="1133.5" y="739">Bool Variant</text><rect class="ow" x="1103" y="743" width="61" height="16"/><rect class="b" x="1128" y="743" width="10" height="16"/><text class="t e" x="1161.5" y="748.6">outTrue</text><text class="t e" x="1161.5" y="756.6">outFalse</text><path class="tk" d="M1159,698v4"/></g>

<g id="N58"><rect class="o" x="1211" y="707" width="79" height="53"/><rect class="h" x="1211" y="707" width="79" height="7"/><text class="t c" x="1250.5" y="712.2">SelectOutput</text><rect class="p" x="1211" y="714" width="79" height="8"/><text class="t" x="1213.5" y="719.6">inValue</text><text class="t e" x="1287.5" y="719.6">outValue</text><path class="g" d="M1249,715.6l3.5,2.4l-3.5,2.4z"/><rect class="b" x="1212" y="723" width="77" height="16"/><text class="t c" x="1250.5" y="729.5">Merge Output</text><text class="t c" x="1250.5" y="736">Bool Variant</text><rect class="ow" x="1211" y="740" width="79" height="20"/><rect class="b" x="1244" y="740" width="10" height="20"/><text class="t" x="1213.5" y="746.6">inTrue</text><text class="t" x="1213.5" y="756.6">inFalse</text><path class="tk" d="M1285,703v4"/></g>

<g id="Y59"><rect class="y" x="1335" y="708" width="52" height="28" rx="3"/><rect class="yi" x="1337" y="710" width="48" height="24" rx="2"/><text class="t c" x="1361" y="714.5">OutputResult</text><circle cx="1361" cy="722.5" r="4"/><text class="t c" x="1361" y="732.5">WriteOutput</text><path class="tk" d="M1382,704v4"/></g>

<g id="N60"><rect class="o" x="1211" y="778" width="79" height="51"/><rect class="h" x="1211" y="778" width="79" height="7"/><text class="t c" x="1250.5" y="783.2">SelectOutput2</text><rect class="p" x="1211" y="785" width="79" height="8"/><text class="t" x="1213.5" y="790.6">inValue</text><text class="t e" x="1287.5" y="790.6">outValue</text><path class="g" d="M1249,786.6l3.5,2.4l-3.5,2.4z"/><rect class="b" x="1212" y="794" width="77" height="16"/><text class="t c" x="1250.5" y="800.5">Merge Output</text><text class="t c" x="1250.5" y="807">Bool Variant</text><rect class="ow" x="1211" y="811" width="79" height="18"/><rect class="b" x="1244" y="811" width="10" height="18"/><text class="t" x="1213.5" y="817.6">inTrue</text><text class="t" x="1213.5" y="826.6">inFalse</text><path class="tk" d="M1285,774v4"/></g>

<circle cx="1746" cy="853" r="36" fill="none" stroke="#f07a28" stroke-width="4"/>
</svg>
